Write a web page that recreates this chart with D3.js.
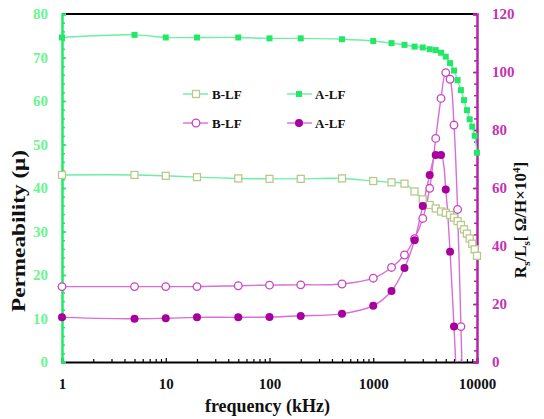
<!DOCTYPE html>
<html>
<head>
<meta charset="utf-8">
<script src="https://cdn.jsdelivr.net/npm/d3@7/dist/d3.min.js"></script>
<style>
  html, body { margin: 0; padding: 0; background: #fff; }
  svg { display: block; }
  text { font-family: "Liberation Serif", "DejaVu Serif", serif; font-weight: bold; }
</style>
</head>
<body>
<svg id="chart" width="544" height="419"></svg>
<script>
// Frequency points (kHz)
const freqLow = [1, 5, 10, 20, 50, 100, 200, 500];
const freqHigh = [1000, 1500, 2000, 2500, 3000, 3500, 4000, 4500, 5000, 5500,
                  6000, 6500, 7000, 7500, 8000, 8500, 9000, 9500, 10000];
const freqAll = freqLow.concat(freqHigh);

// Permeability (left axis)
const permB = [43.0, 43.0, 42.8, 42.5, 42.2, 42.1, 42.1, 42.2,
               41.6, 41.3, 41.0, 39.2, 37.4, 36.1, 35.3, 34.6, 34.3, 33.8,
               33.2, 32.4, 31.5, 30.5, 29.5, 28.4, 27.2, 25.9, 24.4];
const permA = [74.6, 75.2, 74.6, 74.6, 74.6, 74.4, 74.4, 74.2,
               73.8, 73.3, 72.9, 72.5, 72.3, 71.9, 71.7, 71.1, 70.2, 68.7,
               67.0, 64.8, 62.5, 60.2, 57.9, 55.8, 54.1, 52.0, 48.1];

// Rs/Ls (right axis); the last point of each series falls below zero
const freqRlB = freqAll.slice(0, 22);   // 1 ... 7500 kHz
const rlB = [26.0, 26.0, 26.0, 26.0, 26.3, 26.5, 26.6, 26.9,
             28.9, 32.6, 36.9, 42.5, 49.5, 59.9, 77.1, 90.9, 99.8, 97.5,
             81.7, 52.6, 12.2, -28];
const freqRlA = freqAll.slice(0, 20);   // 1 ... 6500 kHz
const rlA = [15.4, 14.9, 15.1, 15.4, 15.4, 15.5, 15.9, 16.6,
             19.4, 24.5, 32.4, 42.0, 53.8, 64.5, 71.4, 71.4, 59.5, 38.0,
             12.2, -14];

// Axis ticks
const xTickValues = [1, 10, 100, 1000, 10000];
const leftTicks = [0, 10, 20, 30, 40, 50, 60, 70, 80];
const rightTicks = [0, 20, 40, 60, 80, 100, 120];
const legendLabels = ["B-LF", "A-LF", "B-LF", "A-LF"];

const C = {
  green: "#22e868",
  greenLine: "#6cf0a2",
  greenText: "#6af592",
  olive: "#b8c98a",
  magenta: "#b524a8",
  magentaText: "#c233b4",
  magLine: "#d86ed6",
  openCircle: "#c844c4",
  filledCircle: "#a8009c"
};

const svg = d3.select("#chart");
const X0 = 62, X1 = 477, Y0 = 362, Y1 = 14;

const x = d3.scaleLog().domain([1, 10000]).range([X0, X1]);
const yL = d3.scaleLinear().domain([0, 80]).range([Y0, Y1]);
const yR = d3.scaleLinear().domain([0, 120]).range([Y0, Y1]);

svg.append("defs").append("clipPath").attr("id", "plotClip")
  .append("rect").attr("x", X0 - 8).attr("y", Y1 - 8)
  .attr("width", X1 - X0 + 16).attr("height", Y0 - Y1 + 8);

// Top frame line
svg.append("line").attr("x1", X0).attr("x2", X1).attr("y1", Y1).attr("y2", Y1)
  .attr("stroke", "#000").attr("stroke-width", 2);

// Bottom axis: minor log ticks and labelled decades
const minorX = [];
for (let d = 1; d < 10000; d *= 10) for (let k = 2; k <= 9; k++) minorX.push(d * k);
svg.append("g").attr("transform", `translate(0,${Y0})`)
  .call(d3.axisBottom(x).tickValues(minorX).tickSize(-3).tickFormat(""))
  .call(g => g.select(".domain").remove())
  .selectAll("line").attr("stroke", "#000").attr("stroke-width", 1.2);
const gx = svg.append("g").attr("transform", `translate(0,${Y0})`)
  .call(d3.axisBottom(x).tickValues(xTickValues).tickSize(-4).tickPadding(16)
    .tickFormat(d3.format("d")));
gx.select(".domain").attr("stroke", "#000").attr("stroke-width", 2);
gx.selectAll("line").attr("stroke", "#000").attr("stroke-width", 1.2);
gx.selectAll("text").attr("fill", "#111").style("font-size", "15px")
  .style("font-family", "Liberation Serif").style("font-weight", "bold");

// Left axis (permeability)
svg.append("g").attr("transform", `translate(${X0},0)`)
  .call(d3.axisLeft(yL).tickValues(d3.range(0, 81, 2)).tickSize(-3).tickFormat(""))
  .call(g => g.select(".domain").remove())
  .selectAll("line").attr("stroke", C.green).attr("stroke-width", 1.5);
const gl = svg.append("g").attr("transform", `translate(${X0},0)`)
  .call(d3.axisLeft(yL).tickValues(leftTicks).tickSize(-4).tickPadding(14));
gl.select(".domain").attr("stroke", C.green).attr("stroke-width", 2.5);
gl.selectAll("line").attr("stroke", C.green).attr("stroke-width", 1.5);
gl.selectAll("text").attr("fill", C.greenText).style("font-size", "15px")
  .style("font-family", "Liberation Serif").style("font-weight", "bold");

// Right axis (Rs/Ls)
svg.append("g").attr("transform", `translate(${X1},0)`)
  .call(d3.axisRight(yR).tickValues(d3.range(0, 121, 4)).tickSize(-3).tickFormat(""))
  .call(g => g.select(".domain").remove())
  .selectAll("line").attr("stroke", C.magenta).attr("stroke-width", 1.5);
const gr = svg.append("g").attr("transform", `translate(${X1},0)`)
  .call(d3.axisRight(yR).tickValues(rightTicks).tickSize(-4).tickPadding(15));
gr.select(".domain").attr("stroke", C.magenta).attr("stroke-width", 2.5);
gr.selectAll("line").attr("stroke", C.magenta).attr("stroke-width", 1.5);
gr.selectAll("text").attr("fill", C.magentaText).style("font-size", "15px")
  .style("font-family", "Liberation Serif").style("font-weight", "bold");

// Axis titles
svg.append("text").attr("transform", `translate(${(X0 + X1) / 2 - 2},412)`)
  .attr("text-anchor", "middle").style("font-size", "18px").attr("fill", "#111")
  .text("frequency (kHz)");
svg.append("text").attr("transform", "translate(25,231) rotate(-90)")
  .attr("text-anchor", "middle").style("font-size", "19px").attr("fill", "#111")
  .attr("textLength", 162).attr("lengthAdjust", "spacingAndGlyphs")
  .text("Permeability (μ)");
const rt = svg.append("text").attr("transform", "translate(526,220) rotate(-90)")
  .attr("text-anchor", "middle").style("font-size", "17px").attr("fill", "#111");
rt.append("tspan").text("R");
rt.append("tspan").text("s").style("font-size", "11px").attr("dy", 4);
rt.append("tspan").text("/L").attr("dy", -4);
rt.append("tspan").text("s").style("font-size", "11px").attr("dy", 4);
rt.append("tspan").text("[ Ω/H×10").attr("dy", -4);
rt.append("tspan").text("4").style("font-size", "11px").attr("dy", -6);
rt.append("tspan").text("]").attr("dy", 6);

// Series definitions
const series = [
  { f: freqAll, v: permB, y: yL, line: C.greenLine, marker: "sqOpen" },
  { f: freqAll, v: permA, y: yL, line: C.greenLine, marker: "sqFilled" },
  { f: freqRlB, v: rlB, y: yR, line: C.magLine, marker: "cirOpen" },
  { f: freqRlA, v: rlA, y: yR, line: C.magLine, marker: "cirFilled" }
];

function drawMarker(g, type, cx, cy) {
  if (type === "sqOpen") {
    g.append("rect").attr("x", cx - 3.5).attr("y", cy - 3.5).attr("width", 7).attr("height", 7)
      .attr("fill", "#fff").attr("stroke", C.olive).attr("stroke-width", 1.3);
  } else if (type === "sqFilled") {
    g.append("rect").attr("x", cx - 3).attr("y", cy - 3).attr("width", 6).attr("height", 6)
      .attr("fill", C.green);
  } else if (type === "cirOpen") {
    g.append("circle").attr("cx", cx).attr("cy", cy).attr("r", 3.8)
      .attr("fill", "#fff").attr("stroke", C.openCircle).attr("stroke-width", 1.3);
  } else {
    g.append("circle").attr("cx", cx).attr("cy", cy).attr("r", 4)
      .attr("fill", C.filledCircle);
  }
}

const lineLayer = svg.append("g").attr("clip-path", "url(#plotClip)");
const markLayer = svg.append("g");

series.forEach(s => {
  const pts = s.f.map((f, i) => [f, s.v[i]]);
  const gen = d3.line().x(d => x(d[0])).y(d => s.y(d[1])).curve(d3.curveCatmullRom.alpha(0.5));
  lineLayer.append("path").attr("d", gen(pts)).attr("fill", "none")
    .attr("stroke", s.line).attr("stroke-width", 1.4);
});
series.forEach(s => {
  s.f.forEach((f, i) => {
    if (s.v[i] >= 0) drawMarker(markLayer, s.marker, x(f), s.y(s.v[i]));
  });
});

// Legend
const legendRows = [94, 123];
const legendCols = [{ l: 183, m: 196, r: 208, t: 212 }, { l: 287, m: 299, r: 312, t: 315 }];
const lg = svg.append("g");
series.forEach((s, i) => {
  const row = legendRows[Math.floor(i / 2)], col = legendCols[i % 2];
  lg.append("line").attr("x1", col.l).attr("x2", col.r).attr("y1", row).attr("y2", row)
    .attr("stroke", s.line).attr("stroke-width", 1.4);
  drawMarker(lg, s.marker, col.m, row);
  lg.append("text").attr("x", col.t).attr("y", row + 4.5).style("font-size", "13px")
    .attr("fill", "#111").text(legendLabels[i]);
});
</script>
</body>
</html>
